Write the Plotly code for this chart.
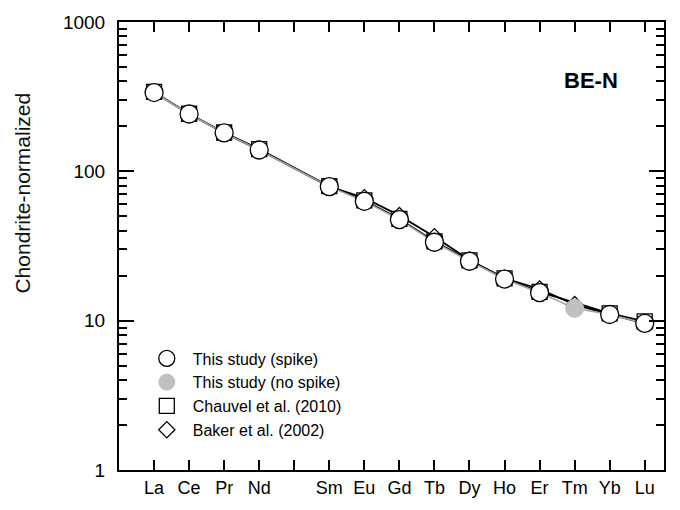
import plotly.graph_objects as go

elements = ["La", "Ce", "Pr", "Nd", "Pm", "Sm", "Eu", "Gd", "Tb", "Dy", "Ho", "Er", "Tm", "Yb", "Lu"]
xpos = list(range(1, 16))

spike = [337, 242, 181, 139, None, 79, 63, 47.5, 33.5, 25, 19, 15.4, None, 11.0, 9.6]
nospike = [None, None, None, None, None, None, None, None, None, None, None, None, 12.1, None, None]
chauvel = [340, 243, 182, 141, None, 79.5, 64, 48, 34, 25.3, 19.2, 15.6, None, 11.2, 9.9]
baker = [337, 242, 181, 139, None, 79, 66.5, 50.5, 36.5, 25.5, 19.2, 16.3, 12.8, 11.0, 9.6]

tick_text = [e if e != "Pm" else "" for e in elements]

FONT = "Liberation Sans, Arial, sans-serif"
fig = go.Figure()

# lines
fig.add_trace(go.Scatter(x=xpos, y=chauvel, mode="lines", connectgaps=True,
                         line=dict(color="black", width=1.8), showlegend=False, hoverinfo="skip"))
fig.add_trace(go.Scatter(x=xpos, y=baker, mode="lines", connectgaps=True,
                         line=dict(color="black", width=1.8), showlegend=False, hoverinfo="skip"))
spike_line = [s if s is not None else n for s, n in zip(spike, nospike)]
fig.add_trace(go.Scatter(x=xpos, y=spike_line, mode="lines", connectgaps=True,
                         line=dict(color="#a8a8a8", width=1.6), showlegend=False, hoverinfo="skip"))

# markers
fig.add_trace(go.Scatter(x=xpos, y=chauvel, mode="markers", name="Chauvel et al. (2010)", legendrank=3,
                         marker=dict(symbol="square", size=15, color="white", line=dict(color="black", width=1.3))))
fig.add_trace(go.Scatter(x=xpos, y=baker, mode="markers", name="Baker et al. (2002)", legendrank=4,
                         marker=dict(symbol="diamond", size=12.5, color="white", line=dict(color="black", width=1.3))))
fig.add_trace(go.Scatter(x=xpos, y=spike, mode="markers", name="This study (spike)", legendrank=1,
                         marker=dict(symbol="circle", size=18, color="white", line=dict(color="black", width=1.3))))
fig.add_trace(go.Scatter(x=xpos, y=nospike, mode="markers", name="This study (no spike)", legendrank=2,
                         marker=dict(symbol="circle", size=18, color="#c0c0c0", line=dict(color="#c0c0c0", width=1))))

minor_vals = [m * 10 ** d for d in range(0, 3) for m in range(2, 10)]

plot_w = 680 - 119 - 16
plot_h = 510 - 21 - 32

fig.update_layout(
    width=680, height=510,
    margin=dict(l=119, r=16, t=21, b=32),
    paper_bgcolor="white", plot_bgcolor="white",
    font=dict(family=FONT, size=16, color="black"),
    showlegend=True,
    legend=dict(x=0.040, y=0.287, xanchor="left", yanchor="top", bgcolor="rgba(0,0,0,0)",
                font=dict(size=16), tracegroupgap=0, itemsizing="trace", itemwidth=42),
    xaxis=dict(range=[0.0, 15.55], tickvals=xpos, ticktext=tick_text, ticks="inside", ticklen=10,
               tickwidth=2, tickcolor="black", showline=True, linewidth=2, linecolor="black",
               mirror="ticks", showgrid=False, zeroline=False, tickfont=dict(size=18)),
    yaxis=dict(type="log", range=[0, 3], tickvals=[1, 10, 100, 1000], ticktext=["1", "10", "100", "1000"],
               ticks="inside", ticklen=15, tickwidth=2, tickcolor="black", showline=True, linewidth=2,
               linecolor="black", mirror="ticks", showgrid=False, zeroline=False, tickfont=dict(size=19),
               ticklabelstandoff=8,
               minor=dict(tickvals=minor_vals, ticks="inside", ticklen=8, tickwidth=2, tickcolor="black",
                          showgrid=False)),
    annotations=[
        dict(text="<b>BE-N</b>", x=0.92, y=0.902, xref="paper", yref="paper",
             showarrow=False, font=dict(size=22, family=FONT, color="black")),
        dict(text="Chondrite-normalized", x=(23 - 119) / plot_w, y=(478 - 196) / plot_h,
             xref="paper", yref="paper", xanchor="center", yanchor="middle",
             showarrow=False, textangle=-90, font=dict(size=21, family=FONT, color="#111111")),
    ],
)

fig.write_html("out.html")
